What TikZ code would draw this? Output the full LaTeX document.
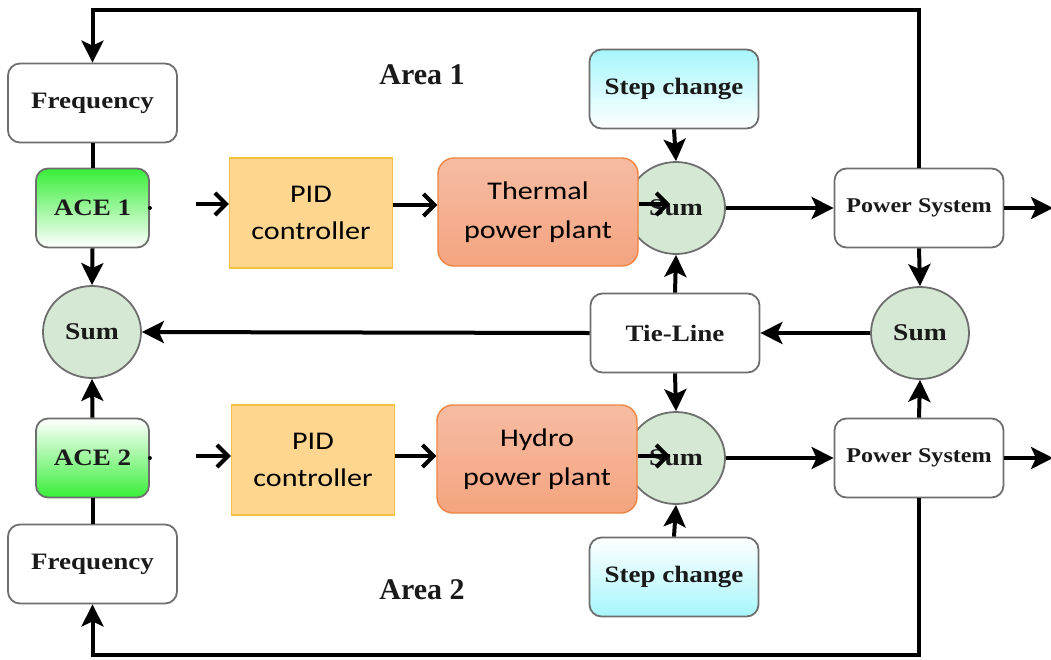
\documentclass[tikz,border=0pt]{standalone}
\usepackage{fontspec}
\setmainfont{Liberation Serif}
\newfontfamily\bxfont{Liberation Serif}[FakeStretch=1.15]
\newfontfamily\cbfont{Carlito}[FakeStretch=1.18]
\usetikzlibrary{arrows.meta,shapes.geometric}
\definecolor{boxgray}{HTML}{6E6E6E}
\definecolor{txt}{HTML}{1A1A1A}
\definecolor{sumgreen}{HTML}{D5E8D4}
\definecolor{acegreen}{HTML}{38EE38}
\definecolor{stepcyan}{HTML}{A6F6FC}
\definecolor{pidfill}{HTML}{FED690}
\definecolor{piddraw}{HTML}{F7C243}
\definecolor{plantTop}{HTML}{F6BCA2}
\definecolor{plantBot}{HTML}{F4A480}
\definecolor{plantdraw}{HTML}{EE8440}
\begin{document}
\begin{tikzpicture}[x=1pt,y=-1pt,
  box/.style={draw=boxgray,line width=1.8pt,rounded corners=12pt,fill=white,
    minimum width=169pt,minimum height=79pt,inner sep=0pt,
    font=\bxfont\bfseries\fontsize{23.5}{27}\selectfont,text=txt},
  acebox/.style={box,minimum width=113pt,minimum height=79pt},
  sumnode/.style={ellipse,draw=boxgray,line width=1.8pt,fill=sumgreen,
    minimum width=98pt,minimum height=92pt,inner sep=0pt,
    font=\bxfont\bfseries\fontsize{24}{27}\selectfont,text=txt},
  pidbox/.style={draw=piddraw,line width=1.4pt,fill=pidfill,
    minimum width=163pt,minimum height=110pt,inner sep=0pt,align=center,
    font=\cbfont\fontsize{25.5}{37}\selectfont},
  plantbox/.style={draw=plantdraw,line width=1.4pt,rounded corners=16pt,
    top color=plantTop,bottom color=plantBot,
    minimum width=200pt,minimum height=108pt,inner sep=0pt,align=center,
    font=\cbfont\fontsize{25.5}{39}\selectfont},
  arealabel/.style={font=\bfseries\fontsize{30}{34}\selectfont,text=txt},
  arr/.style={line width=4pt,-{Stealth[length=22pt,width=22pt,inset=5pt]}},
  barb/.style={line width=4pt,-{Straight Barb[length=11pt,width=22pt]}},
  ln/.style={line width=4pt}]
\useasboundingbox (0,0) rectangle (1051,659);

% left column
\node[box] (freq1) at (92.5,103) {Frequency};
\node[acebox,top color=acegreen,bottom color=white] (ace1) at (92.5,208) {ACE 1};
\node[sumnode] (sumL) at (92,332) {Sum};
\node[acebox,top color=white,bottom color=acegreen] (ace2) at (92.5,458) {ACE 2};
\node[box] (freq2) at (92.5,564) {Frequency};

% middle column sums (drawn before plants so plants overlap)
\node[sumnode] (sumT) at (676,208) {Sum};
\node[sumnode] (sumB) at (676,458) {Sum};
\node[box,top color=stepcyan,bottom color=white] (stepT) at (674,89) {Step change};
\node[box,top color=white,bottom color=stepcyan] (stepB) at (674,577) {Step change};
\node[box] (tie) at (675,333) {Tie-Line};

% controllers and plants
\node[pidbox] (pid1) at (311,213) {PID\\controller};
\node[pidbox] (pid2) at (313,460) {PID\\controller};
\node[plantbox] (therm) at (538,212) {Thermal\\power plant};
\node[plantbox] (hydro) at (537,459) {Hydro\\power plant};

% right column
\node[box,font=\bxfont\bfseries\fontsize{21}{25}\selectfont] (ps1) at (919,208) {Power System};
\node[sumnode] (sumR) at (920,333) {Sum};
\node[box,font=\bxfont\bfseries\fontsize{21}{25}\selectfont] (ps2) at (919,458) {Power System};

% area labels
\node[arealabel] (area1) at (422,75) {Area 1};
\node[arealabel] (area2) at (422,590) {Area 2};

% coordinates
\coordinate (topR) at (919,10);
\coordinate (topL) at (92.5,10);
\coordinate (botR) at (919,655);
\coordinate (botL) at (92.5,655);
\coordinate (in1) at (196,204);
\coordinate (in2) at (196,456);
\coordinate (p1o) at ([yshift=8pt]pid1.east);
\coordinate (p2o) at ([yshift=4pt]pid2.east);
\coordinate (t1o) at ([yshift=8pt]therm.east);
\coordinate (h1o) at ([yshift=3pt]hydro.east);
\coordinate (t1e) at (670,204);
\coordinate (h1e) at (670,456);
\coordinate (out1) at (1053,208);
\coordinate (out2) at (1053,458);

% outer loops
\draw[arr] (ps1.north) -- (topR) -- (topL) -- (freq1.north);
\draw[arr] (ps2.south) -- (botR) -- (botL) -- (freq2.south);

% left column connectors
\draw[ln] (freq1.south) -- (ace1.north);
\draw[ln] (freq2.north) -- (ace2.south);
\draw[arr] (ace1.south) -- (sumL.north);
\draw[arr] (ace2.north) -- (sumL.south);
\fill (ace1.east) circle (2pt);
\fill (ace2.east) circle (2pt);

% controller chain
\draw[barb] (in1) -- (in1 -| pid1.west);
\draw[barb] (in2) -- (in2 -| pid2.west);
\draw[barb] (p1o) -- (p1o -| therm.west);
\draw[barb] (p2o) -- (p2o -| hydro.west);
\draw[barb] (t1o) -- (t1e);
\draw[barb] (h1o) -- (h1e);

% middle connectors
\draw[arr] (stepT.south) -- (sumT.north);
\draw[arr] (stepB.north) -- (sumB.south);
\draw[arr] (tie.north) -- (sumT.south);
\draw[arr] (tie.south) -- (sumB.north);
\draw[arr] (tie.west) -- (sumL.east);
\draw[arr] (sumR.west) -- (tie.east);
\draw[arr] (sumT.east) -- (ps1.west);
\draw[arr] (sumB.east) -- (ps2.west);

% right connectors
\draw[arr] (ps1.east) -- (out1);
\draw[arr] (ps2.east) -- (out2);
\draw[arr] (ps1.south) -- (sumR.north);
\draw[arr] (ps2.north) -- (sumR.south);
\end{tikzpicture}
\end{document}
